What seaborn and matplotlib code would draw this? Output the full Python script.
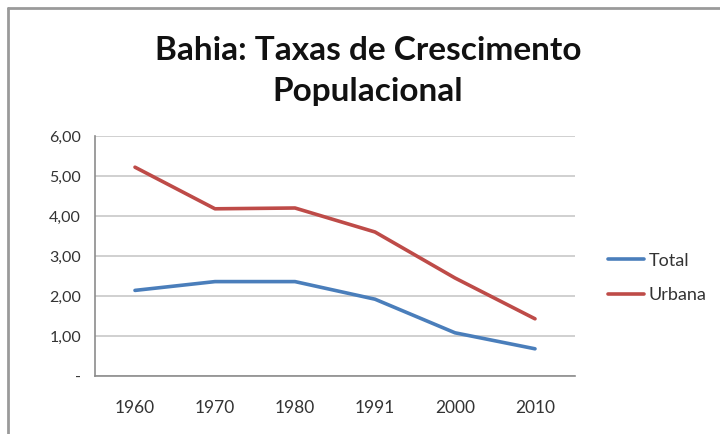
import matplotlib
matplotlib.use("Agg")
import matplotlib.pyplot as plt
from matplotlib.lines import Line2D
import seaborn as sns
import pandas as pd

years = ["1960", "1970", "1980", "1991", "2000", "2010"]
total = [2.14, 2.36, 2.36, 1.92, 1.08, 0.68]
urbana = [5.22, 4.18, 4.20, 3.60, 2.45, 1.43]
series_names = ["Total", "Urbana"]
colors = ["#4a7ebb", "#be4b48"]
yticks = [0, 1, 2, 3, 4, 5, 6]

sns.set_theme(style="white")
plt.rcParams['font.family'] = ['Lato', 'DejaVu Sans']

df = pd.DataFrame({
    "pos": list(range(len(years))) * 2,
    "valor": total + urbana,
    "serie": [series_names[0]] * len(years) + [series_names[1]] * len(years),
})

fig = plt.figure(figsize=(7.2, 4.34), dpi=100)
ax = fig.add_axes([95/720, 1-376/434, (575-95)/720, (376-136)/434])

sns.lineplot(data=df, x="pos", y="valor", hue="serie", palette=colors,
             linewidth=2.6, ax=ax, legend=False)

ax.set_xlim(-0.5, len(years) - 0.5)
ax.set_ylim(0, 6)
ax.set_yticks(yticks)
ax.set_yticklabels(["-" if v == 0 else f"{v:.2f}".replace(".", ",") for v in yticks])
ax.set_xticks(range(len(years)))
ax.set_xticklabels(years)
ax.set_xticks([i - 0.5 for i in range(len(years) + 1)], minor=True)
ax.tick_params(axis="x", which="major", length=0, pad=17, labelsize=12.5, labelcolor="#333333")
ax.tick_params(axis="x", which="minor", length=6, width=1, color="#8c8c8c", direction="out")
ax.tick_params(axis="y", length=6, width=1, color="#8c8c8c", direction="out", pad=4,
               labelsize=11.5, labelcolor="#333333")
ax.grid(axis="y", color="#c8c8c8", linewidth=1.2)
ax.set_axisbelow(True)
for s in ["top", "right"]:
    ax.spines[s].set_visible(False)
for s in ["left", "bottom"]:
    ax.spines[s].set_color("#8c8c8c")
    ax.spines[s].set_linewidth(1.2)
ax.set_xlabel("")
ax.set_ylabel("")

handles = [Line2D([0], [0], color=c, lw=2.6) for c in colors]
fig.legend(handles, series_names, loc="center left", bbox_to_anchor=(592/720, 1-278/434),
           frameon=False, fontsize=13, handlelength=2.0, handletextpad=0.25,
           labelspacing=1.05, labelcolor="#333333")

fig.text(368/720, 1-50/434, "Bahia: Taxas de Crescimento", ha="center", va="center",
         fontsize=24, fontweight="bold", color="#111111")
fig.text(368/720, 1-92/434, "Populacional", ha="center", va="center",
         fontsize=24, fontweight="bold", color="#111111")

# chart frame (left and top edges)
fig.add_artist(Line2D([8/720, 8/720], [0, 1-8/434], transform=fig.transFigure,
                      color="#9a9a9a", lw=2))
fig.add_artist(Line2D([8/720, 1], [1-8/434, 1-8/434], transform=fig.transFigure,
                      color="#9a9a9a", lw=2))

fig.savefig("out.png", dpi=100)
